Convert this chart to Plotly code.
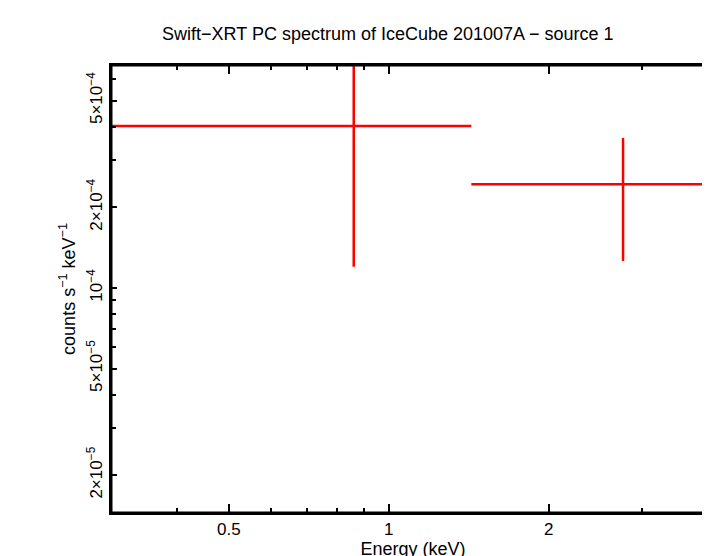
import plotly.graph_objects as go

# spectrum bins (keV, counts s^-1 keV^-1)
energy = [0.859, 2.76]
e_lo = [0.30, 1.43]
e_hi = [1.43, 4.3]
rate = [4.02e-4, 2.44e-4]
rate_lo = [1.2e-4, 1.26e-4]
rate_hi = [8e-4, 3.63e-4]

fig = go.Figure(go.Scatter(
    x=energy, y=rate, mode="markers",
    marker=dict(size=1, color="red"),
    error_x=dict(type="data", symmetric=False,
                 array=[h - e for h, e in zip(e_hi, energy)],
                 arrayminus=[e - l for e, l in zip(energy, e_lo)],
                 color="red", thickness=2.5, width=0),
    error_y=dict(type="data", symmetric=False,
                 array=[h - r for h, r in zip(rate_hi, rate)],
                 arrayminus=[r - l for r, l in zip(rate, rate_lo)],
                 color="red", thickness=2.5, width=0),
))

font = dict(family="Liberation Sans", size=17, color="black")
axis_common = dict(type="log", showgrid=False, zeroline=False, showline=True,
                   linecolor="black", linewidth=2, mirror="allticks",
                   ticks="inside", tickcolor="black", tickwidth=2,
                   tickfont=font, automargin=False)

fig.update_xaxes(**axis_common, range=[-0.5229, 0.614], ticklen=9,
                 tickvals=[0.5, 1, 2], ticktext=["0.5", "1", "2"],
                 minor=dict(tickvals=[0.3, 0.4, 0.6, 0.7, 0.8, 0.9, 3, 4],
                            ticks="inside", ticklen=5, tickcolor="black", tickwidth=2),
                 title=dict(text="Energy (keV)", font=dict(family="Liberation Sans", size=18, color="black"), standoff=2))

fig.update_yaxes(**axis_common, range=[-4.84, -3.168], ticklen=6, tickangle=-90,
                 tickvals=[2e-5, 5e-5, 1e-4, 2e-4, 5e-4],
                 ticktext=["2×10<sup>−5</sup>", "5×10<sup>−5</sup>", "10<sup>−4</sup>",
                           "2×10<sup>−4</sup>", "5×10<sup>−4</sup>"],
                 minor=dict(tickvals=[3e-5, 4e-5, 6e-5, 7e-5, 8e-5, 9e-5, 3e-4, 4e-4, 6e-4],
                            ticks="inside", ticklen=5, tickcolor="black", tickwidth=2),
                 title=dict(text="counts s<sup>−1</sup> keV<sup>−1</sup>",
                            font=dict(family="Liberation Sans", size=18, color="black"), standoff=4))

fig.add_shape(type="rect", xref="paper", yref="paper", x0=0, y0=0, x1=1, y1=1,
              line=dict(color="black", width=3))

fig.update_layout(
    width=710, height=556, plot_bgcolor="white", paper_bgcolor="white",
    margin=dict(l=103, r=3, t=57, b=51, autoexpand=False), showlegend=False,
    title=dict(text="Swift−XRT PC spectrum of IceCube 201007A − source 1",
               x=0.535, y=0.965, xanchor="center",
               font=dict(family="Liberation Sans", size=18, color="black")),
)

fig.write_html("out.html")
